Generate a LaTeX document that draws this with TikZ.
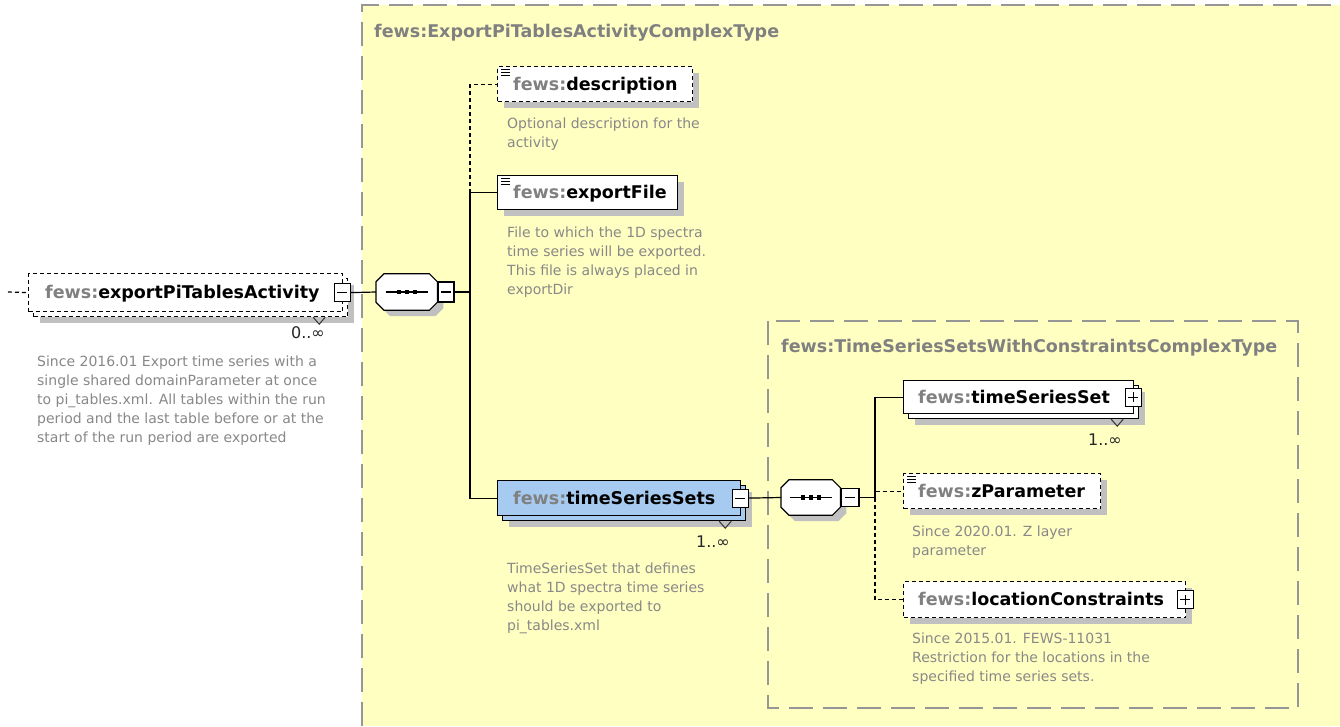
\documentclass[tikz,border=0pt]{standalone}
\usepackage{fontspec}
\setmainfont{DejaVu Sans}
\definecolor{ybg}{RGB}{255,255,194}
\definecolor{shd}{RGB}{192,192,192}
\definecolor{ctb}{RGB}{150,150,150}
\definecolor{pfx}{RGB}{128,128,128}
\definecolor{dsc}{RGB}{136,136,136}
\definecolor{blu}{RGB}{166,202,240}
\begin{document}
\begin{tikzpicture}[x=1pt,y=-1pt,
  ctborder/.style={draw=ctb, line width=1.3pt, dash pattern=on 24pt off 10pt},
  ebox/.style={draw=black, line width=1.2pt, fill=white, inner sep=0pt, anchor=north west},
  optl/.style={dash pattern=on 4pt off 3pt},
  sh/.style={preaction={fill=shd, draw=none, transform canvas={xshift=#1, yshift=-#1}}},
  sh/.default=6pt,
  backbox/.style={preaction={draw=black, line width=1.2pt, fill=#1, transform canvas={xshift=5pt, yshift=-5pt}}},
  backopt/.style={preaction={draw=black, line width=1.2pt, dash pattern=on 4pt off 3pt, fill=#1, transform canvas={xshift=5pt, yshift=-5pt}}},
  sgn/.style={draw=black, line width=1.2pt, fill=white, minimum width=16, minimum height=18, inner sep=0pt},
  sgnminus/.style={path picture={\draw[line width=1.2pt] ([xshift=-5pt]path picture bounding box.center) -- ([xshift=5pt]path picture bounding box.center);}},
  sgnplus/.style={path picture={\draw[line width=1.2pt] ([xshift=-5pt]path picture bounding box.center) -- ([xshift=5pt]path picture bounding box.center) ([yshift=-5pt]path picture bounding box.center) -- ([yshift=5pt]path picture bounding box.center);}},
  seqframe/.style={draw=none, inner sep=0pt, anchor=west},
  octo/.style={draw=black, line width=1.2pt, fill=white},
  conn/.style={draw=black, line width=1.2pt},
  dconn/.style={draw=black, line width=1.2pt, dash pattern=on 4pt off 3pt},
  nm/.style={font=\fontsize{17.5}{20}\selectfont\bfseries, inner sep=0pt, anchor=base west},
  ttl/.style={font=\fontsize{17.5}{20}\selectfont\bfseries, text=pfx, inner sep=0pt, anchor=base west},
  dtext/.style={font=\fontsize{14}{19}\selectfont, text=dsc, align=left, inner sep=0pt, anchor=north west},
  mult/.style={font=\fontsize{16}{18}\selectfont, text=black!85, inner sep=0pt, anchor=base east},
  icon/.style={draw=black, line width=1pt},
  vnotch/.style={draw=black!80, line width=1pt}
]
\useasboundingbox (0,0) rectangle (1340,726);
\fill[white] (0,0) rectangle (1340,726);
% outer complex type
\fill[ybg] (362,5) rectangle (1340,726);
\draw[ctborder] (362,726) -- (362,5) -- (1340,5);
\node[ttl] (ttl1) at (374,37) {fews:ExportPiTablesActivityComplexType};
% inner complex type
\draw[ctborder] (768,321) rectangle (1298,708);
\node[ttl] (ttl2) at (781,352) {fews:TimeSeriesSetsWithConstraintsComplexType};

% root element
\node[ebox, optl, sh=11pt, backopt=white, minimum width=314, minimum height=38] (root) at (28,273) {};
\node[nm] (rootT) at ([shift={(17,6)}]root.west) {\textcolor{pfx}{fews:}exportPiTablesActivity};
\node[sgn, sgnminus] (rsg) at ([xshift=-1pt]root.east) {};
\draw[vnotch] ([shift={(-30,5)}]root.south east) -- ++(6,7) -- ++(6,-7);
\node[mult] (rootM) at (325,338) {0..∞};
\node[dtext] (rootD) at (37,355.4) {Since 2016.01 Export time series with a\\single shared domainParameter at once\\to pi\_tables.xml. All tables within the run\\period and the last table before or at the\\start of the run period are exported};
\coordinate (rin) at (8,292);

% sequence 1
\node[seqframe, minimum width=61, minimum height=36] (seq1) at (376,292) {};
\path[octo, sh] ([yshift=-8pt]seq1.north west) -- ([xshift=8pt]seq1.north west) -- ([xshift=-8pt]seq1.north east) -- ([yshift=-8pt]seq1.north east) -- ([yshift=8pt]seq1.south east) -- ([xshift=-8pt]seq1.south east) -- ([xshift=8pt]seq1.south west) -- ([yshift=8pt]seq1.south west) -- cycle;
\draw[conn] ([xshift=-21pt]seq1.center) -- ([xshift=21pt]seq1.center);
\foreach \dx in {-8,0,8} \fill[black] ([xshift=\dx pt]seq1.center) ++(-2.2,-2.2) rectangle ++(4.4,4.4);
\node[sgn, sgnminus, anchor=west, minimum width=16, minimum height=20] (s1sg) at (seq1.east) {};
\coordinate (t1) at (470,292);

% description
\node[ebox, optl, sh, minimum width=195, minimum height=35] (desc) at (497,66) {};
\node[nm] (descT) at ([shift={(16,6)}]desc.west) {\textcolor{pfx}{fews:}description};
\foreach \k in {3,6,9} \draw[icon] ([shift={(4,\k)}]desc.north west) -- ++(9,0);
\node[dtext] (descD) at (507,117.4) {Optional description for the\\activity};

% exportFile
\node[ebox, sh, minimum width=180, minimum height=34] (expf) at (497,175) {};
\node[nm] (expfT) at ([shift={(16,6)}]expf.west) {\textcolor{pfx}{fews:}exportFile};
\foreach \k in {3,6,9} \draw[icon] ([shift={(4,\k)}]expf.north west) -- ++(9,0);
\node[dtext] (expfD) at (507,226.4) {File to which the 1D spectra\\time series will be exported.\\This file is always placed in\\exportDir};

% timeSeriesSets
\node[ebox, fill=blu, sh=11pt, backbox=blu, minimum width=243, minimum height=35] (tss) at (497,480) {};
\node[nm] (tssT) at ([shift={(16,6)}]tss.west) {\textcolor{pfx}{fews:}timeSeriesSets};
\node[sgn, sgnminus] (tsssg) at ([xshift=-1pt]tss.east) {};
\draw[vnotch] ([shift={(-22,5)}]tss.south east) -- ++(6,7) -- ++(6,-7);
\node[mult] (tssM) at (730,547) {1..∞};
\node[dtext] (tssD) at (507,562.4) {TimeSeriesSet that defines\\what 1D spectra time series\\should be exported to\\pi\_tables.xml};

% sequence 2
\node[seqframe, minimum width=59, minimum height=35] (seq2) at (781,497.5) {};
\path[octo, sh] ([yshift=-8pt]seq2.north west) -- ([xshift=8pt]seq2.north west) -- ([xshift=-8pt]seq2.north east) -- ([yshift=-8pt]seq2.north east) -- ([yshift=8pt]seq2.south east) -- ([xshift=-8pt]seq2.south east) -- ([xshift=8pt]seq2.south west) -- ([yshift=8pt]seq2.south west) -- cycle;
\draw[conn] ([xshift=-21pt]seq2.center) -- ([xshift=21pt]seq2.center);
\foreach \dx in {-8,0,8} \fill[black] ([xshift=\dx pt]seq2.center) ++(-2.2,-2.2) rectangle ++(4.4,4.4);
\node[sgn, sgnminus, anchor=west, minimum width=18, minimum height=18] (s2sg) at (seq2.east) {};
\coordinate (t2) at (875,497.5);

% timeSeriesSet
\node[ebox, sh=11pt, backbox=white, minimum width=230, minimum height=33] (ts) at (903,380) {};
\node[nm] (tsT) at ([shift={(15,6)}]ts.west) {\textcolor{pfx}{fews:}timeSeriesSet};
\node[sgn, sgnplus] (tssg) at ([xshift=-1pt]ts.east) {};
\draw[vnotch] ([shift={(-23,5)}]ts.south east) -- ++(6,7) -- ++(6,-7);
\node[mult] (tsM) at (1122,445) {1..∞};

% zParameter
\node[ebox, optl, sh, minimum width=197, minimum height=35] (zp) at (903,473) {};
\node[nm] (zpT) at ([shift={(15,6)}]zp.west) {\textcolor{pfx}{fews:}zParameter};
\foreach \k in {3,6,9} \draw[icon] ([shift={(4,\k)}]zp.north west) -- ++(9,0);
\node[dtext] (zpD) at (912,525.4) {Since 2020.01. Z layer\\parameter};

% locationConstraints
\node[ebox, optl, sh, minimum width=282, minimum height=36] (lc) at (903,581) {};
\node[nm] (lcT) at ([shift={(15,6)}]lc.west) {\textcolor{pfx}{fews:}locationConstraints};
\node[sgn, sgnplus] (lcsg) at ([xshift=-1pt]lc.east) {};
\node[dtext] (lcD) at (912,632.4) {Since 2015.01. FEWS-11031\\Restriction for the locations in the\\specified time series sets.};

% connectors
\draw[dconn] (rin) -- (root.west);
\draw[conn] (rsg.east) -- (seq1.west);
\draw[conn] (s1sg.east) -- (t1);
\draw[conn] (t1) |- (expf.west);
\draw[conn] (t1) |- (tss.west);
\draw[dconn] (t1 |- expf.west) |- (desc.west);
\draw[conn] (tsssg.east) -- (seq2.west);
\draw[conn] (s2sg.east) -- (t2);
\draw[conn] (t2) |- (ts.west);
\draw[dconn] (t2) |- (zp.west);
\draw[dconn] (t2) |- (lc.west);
\end{tikzpicture}
\end{document}
